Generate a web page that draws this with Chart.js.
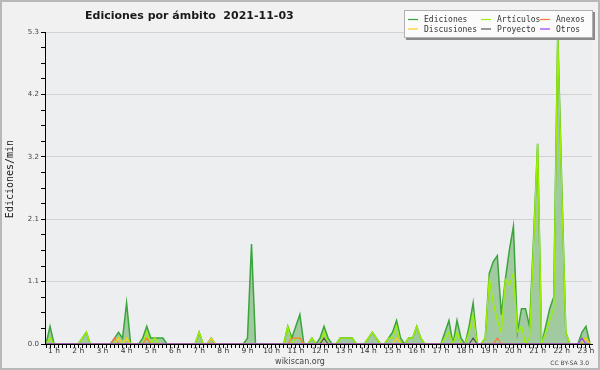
<!DOCTYPE html>
<html>
<head>
<meta charset="utf-8">
<script src="https://cdn.jsdelivr.net/npm/chart.js@4.4.0/dist/chart.umd.min.js"></script>
<style>
  html, body { margin: 0; padding: 0; background: #f1f1f1; }
  canvas { display: block; }
</style>
</head>
<body>
<canvas id="chart" width="600" height="370"></canvas>
<script>
// one value per 10-minute slot, edits per minute
const chartTitle = 'Ediciones por ámbito  2021-11-03';
const yTitle = 'Ediciones/min';
const hourLabels = ['1 h','2 h','3 h','4 h','5 h','6 h','7 h','8 h','9 h','10 h','11 h','12 h',
  '13 h','14 h','15 h','16 h','17 h','18 h','19 h','20 h','21 h','22 h','23 h'];
const firstHourSlot = 2;      // slot where "1 h" falls, then every 6 slots
const yMax = 5.3;
const yTickLabels = ['0.0','1.1','2.1','3.2','4.2','5.3'];

const ediciones = [
  0,0.3,0,0,0,0,0,0,0,0.1,
  0.2,0,0,0,0,0,0,0.1,0.2,0.1,
  0.7,0,0,0,0.1,0.3,0.1,0.1,0.1,0.1,
  0,0,0,0,0,0,0,0,0.2,0,
  0,0.1,0,0,0,0,0,0,0,0,
  0.1,1.7,0,0,0,0,0,0,0,0,
  0.3,0.1,0.3,0.5,0,0,0.1,0,0.1,0.3,
  0.1,0,0,0.1,0.1,0.1,0.1,0,0,0,
  0.1,0.2,0.1,0,0,0.1,0.2,0.4,0.1,0,
  0.1,0.1,0.3,0.1,0,0,0,0,0,0.2,
  0.4,0,0.4,0.1,0,0.3,0.7,0,0,0.1,
  1.2,1.4,1.5,0.5,1.1,1.6,2.0,0.2,0.6,0.6,
  0.3,1.8,3.4,0,0.3,0.6,0.8,5.3,2.7,0.2,
  0,0,0,0.2,0.3,0
];
const articulos = [
  0,0.1,0,0,0,0,0,0,0,0.1,
  0.2,0,0,0,0,0,0,0,0.1,0,
  0.1,0,0,0,0,0.2,0,0.1,0,0,
  0,0,0,0,0,0,0,0,0.2,0,
  0,0,0,0,0,0,0,0,0,0,
  0,0,0,0,0,0,0,0,0,0,
  0.3,0,0.1,0.1,0,0,0.1,0,0,0.2,
  0,0,0,0.1,0.1,0.1,0.1,0,0,0,
  0.1,0.2,0.1,0,0,0.1,0.1,0.3,0,0,
  0.1,0.1,0.3,0.1,0,0,0,0,0,0.1,
  0.2,0,0.2,0,0,0.2,0.5,0,0,0.1,
  1.1,0.7,0.4,0.2,1.1,1.0,1.2,0.2,0.3,0,
  0.1,1.7,3.4,0,0.2,0.4,0.6,5.2,2.6,0.2,
  0,0,0,0.1,0.1,0
];
const anexos = [
  0,0,0,0,0,0,0,0,0,0,
  0,0,0,0,0,0,0,0.1,0,0,
  0,0,0,0,0,0.1,0,0,0,0,
  0,0,0,0,0,0,0,0,0,0,
  0,0,0,0,0,0,0,0,0,0,
  0,0,0,0,0,0,0,0,0,0,
  0,0.1,0.1,0.1,0,0,0,0,0,0,
  0,0,0,0,0,0,0,0,0,0,
  0,0,0,0,0,0,0,0,0,0,
  0,0,0,0,0,0,0,0,0,0,
  0,0,0,0,0,0,0,0,0,0,
  0,0,0.1,0,0,0,0,0,0,0,
  0,0,0,0,0,0,0,0,0,0,
  0,0,0,0,0.1,0
];
const discusiones = [
  0,0,0,0,0,0,0,0,0,0,
  0,0,0,0,0,0,0,0,0.1,0,
  0.1,0,0,0,0,0,0,0,0,0,
  0,0,0,0,0,0,0,0,0,0,
  0,0.1,0,0,0,0,0,0,0,0,
  0,0,0,0,0,0,0,0,0,0,
  0,0,0,0,0,0,0,0,0,0,
  0,0,0,0,0,0,0,0,0,0,
  0,0,0,0,0,0,0,0.1,0,0,
  0,0,0,0,0,0,0,0,0,0,
  0,0,0,0,0,0,0,0,0,0,
  0,0,0,0,0,0,0,0,0,0,
  0,0,0,0,0,0,0,0,0,0,
  0,0,0,0,0.1,0
];
const proyecto = [
  0,0,0,0,0,0,0,0,0,0,
  0,0,0,0,0,0,0,0,0,0,
  0,0,0,0,0,0,0,0,0,0,
  0,0,0,0,0,0,0,0,0,0,
  0,0,0,0,0,0,0,0,0,0,
  0,0,0,0,0,0,0,0,0,0,
  0,0,0,0,0,0,0,0,0,0.1,
  0,0,0,0,0,0,0,0,0,0,
  0,0,0,0,0,0,0,0,0,0,
  0,0,0,0,0,0,0,0,0,0,
  0,0,0,0,0,0,0.1,0,0,0,
  0,0,0,0,0,0,0,0,0,0,
  0,0,0,0,0,0,0,0,0,0,
  0,0,0,0,0,0
];
const otros = [
  0,0,0,0,0,0,0,0,0,0,
  0,0,0,0,0,0,0,0,0,0,
  0,0,0,0,0,0,0,0,0,0,
  0,0,0,0,0,0,0,0,0,0,
  0,0,0,0,0,0,0,0,0,0,
  0,0,0,0,0,0,0,0,0,0,
  0,0,0,0,0,0,0,0,0,0,
  0,0,0,0,0,0,0,0,0,0,
  0,0,0,0,0,0,0,0,0,0,
  0,0,0,0,0,0,0,0,0,0,
  0,0,0,0,0,0,0,0,0,0,
  0,0,0,0,0,0,0,0,0,0,
  0,0,0,0,0,0,0,0,0,0,
  0,0,0,0.1,0,0
];

const slots = ediciones.map((_, i) => i);

function line(label, data, color, order, extra){
  return Object.assign({ label, data, borderColor: color, backgroundColor: color,
    borderWidth: 1.2, pointRadius: 0, tension: 0, fill: false, order }, extra || {});
}

const datasets = [
  line('Ediciones', ediciones, '#3aa53a', 6, { fill: 'origin', backgroundColor: '#a1caa1', borderWidth: 1.5 }),
  line('Artículos', articulos, '#9cf000', 5, { borderWidth: 1.4 }),
  line('Anexos', anexos, '#ff7a3a', 4),
  line('Discusiones', discusiones, '#ffcc22', 3),
  line('Proyecto', proyecto, '#555555', 2),
  line('Otros', otros, '#9a3cff', 1),
];

const decor = {
  id: 'decor',
  beforeDraw(chart){
    const {ctx, chartArea: a} = chart;
    ctx.save();
    ctx.fillStyle = '#f1f1f1';
    ctx.fillRect(0, 0, chart.width, chart.height);
    ctx.fillStyle = '#eceef0';
    ctx.fillRect(a.left, a.top, a.right - a.left, a.bottom - a.top);
    ctx.restore();
  },
  afterDraw(chart){
    const ctx = chart.ctx;
    ctx.save();
    // frame
    ctx.strokeStyle = '#b8b8b8';
    ctx.lineWidth = 2;
    ctx.strokeRect(1, 1, chart.width - 2, chart.height - 2);
    // title
    ctx.fillStyle = '#1a1a1a';
    ctx.font = 'bold 11px "DejaVu Sans"';
    ctx.textAlign = 'left';
    ctx.textBaseline = 'alphabetic';
    ctx.fillText(chartTitle, 85, 18.5);
    // y title
    ctx.save();
    ctx.translate(13, 179);
    ctx.rotate(-Math.PI / 2);
    ctx.font = '10px "DejaVu Sans Mono"';
    ctx.textAlign = 'center';
    ctx.fillText(yTitle, 0, 0);
    ctx.restore();
    // legend box
    const bx = 404, by = 10, bw = 189, bh = 28;
    ctx.fillStyle = '#8a8a8a';
    ctx.fillRect(bx + 2, by + 2, bw, bh);
    ctx.fillStyle = '#fbfbfb';
    ctx.fillRect(bx, by, bw, bh);
    ctx.strokeStyle = '#b0b0b0';
    ctx.lineWidth = 1;
    ctx.strokeRect(bx + 0.5, by + 0.5, bw - 1, bh - 1);
    const colX = [408, 481, 540];
    const rowY = [19.5, 29];
    ctx.font = '8px "DejaVu Sans Mono"';
    ctx.textBaseline = 'middle';
    ctx.textAlign = 'left';
    chart.data.datasets.forEach((ds, k) => {
      const x = colX[k % 3], y = rowY[Math.floor(k / 3)];
      ctx.strokeStyle = ds.borderColor;
      ctx.lineWidth = 1.2;
      ctx.beginPath();
      ctx.moveTo(x, y);
      ctx.lineTo(x + 10, y);
      ctx.stroke();
      ctx.fillStyle = '#333';
      ctx.fillText(ds.label, x + 16, y + 0.5);
    });
    // footer
    ctx.fillStyle = '#444';
    ctx.font = '8px "DejaVu Sans"';
    ctx.textAlign = 'center';
    ctx.textBaseline = 'alphabetic';
    ctx.fillText('wikiscan.org', 300, 364);
    ctx.font = '6px "DejaVu Sans"';
    ctx.textAlign = 'right';
    ctx.fillText('CC BY-SA 3.0', 589, 365);
    ctx.restore();
  }
};

new Chart(document.getElementById('chart'), {
  type: 'line',
  data: { labels: slots, datasets },
  options: {
    responsive: false,
    animation: false,
    events: [],
    layout: { padding: { top: 32, right: 8, left: 0, bottom: 0 } },
    plugins: { legend: { display: false }, title: { display: false }, tooltip: { enabled: false } },
    scales: {
      x: {
        type: 'linear',
        min: -0.25,
        max: slots.length - 0.5,
        afterFit: s => { s.height = 26; },
        afterBuildTicks: s => { s.ticks = slots.map(v => ({ value: v })); },
        grid: { drawOnChartArea: false, tickLength: 4, tickColor: '#000' },
        border: { color: '#000', width: 1, z: 1 },
        ticks: {
          autoSkip: false, maxRotation: 0, padding: -1, color: '#333',
          font: { family: 'DejaVu Sans', size: 7.5 },
          callback: v => {
            const k = v - firstHourSlot;
            return (k >= 0 && k % 6 === 0) ? (hourLabels[k / 6] || '') : '';
          }
        }
      },
      y: {
        min: 0,
        max: yMax,
        afterFit: s => { s.width = 45; },
        afterBuildTicks: s => { s.ticks = Array.from({ length: 21 }, (_, k) => ({ value: k * yMax / 20 })); },
        grid: {
          tickLength: 4,
          tickColor: '#000',
          color: c => (c.index % 4 === 0 && c.index > 0) ? '#d2d2d2' : 'rgba(0,0,0,0)'
        },
        border: { color: '#000', width: 1, z: 1 },
        ticks: {
          autoSkip: false, padding: 2, color: '#444',
          font: { family: 'DejaVu Sans', size: 7 },
          callback: (v, i) => i % 4 === 0 ? yTickLabels[i / 4] : ''
        }
      }
    }
  },
  plugins: [decor]
});
</script>
</body>
</html>
